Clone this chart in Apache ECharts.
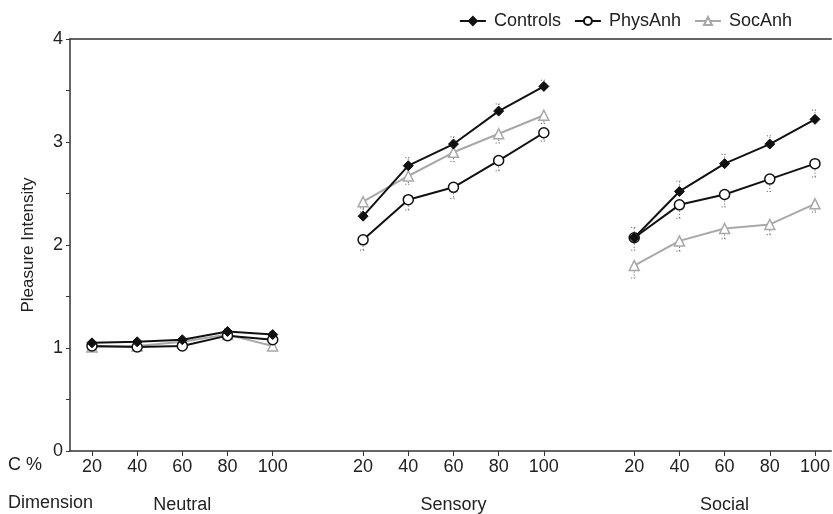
<!DOCTYPE html>
<html>
<head>
<meta charset="utf-8">
<script src="https://cdn.jsdelivr.net/npm/echarts@6/dist/echarts.min.js"></script>
<style>html,body{margin:0;padding:0;background:#fff;}#c{width:833px;height:514px;}</style>
</head>
<body>
<div id="c"></div>
<script>
// ---- data ----
var cPct = ['20', '40', '60', '80', '100'];
var dimensions = ['Neutral', 'Sensory', 'Social'];
var groupOffsets = [0, 6, 12];
var yTicks = [0, 1, 2, 3, 4];

var controls = [
  [1.05, 1.06, 1.08, 1.16, 1.13],
  [2.28, 2.77, 2.98, 3.30, 3.54],
  [2.07, 2.52, 2.79, 2.98, 3.22]
];
var physAnh = [
  [1.02, 1.01, 1.02, 1.12, 1.08],
  [2.05, 2.44, 2.56, 2.82, 3.09],
  [2.07, 2.39, 2.49, 2.64, 2.79]
];
var socAnh = [
  [1.01, 1.02, 1.06, 1.13, 1.02],
  [2.42, 2.67, 2.90, 3.08, 3.26],
  [1.80, 2.04, 2.16, 2.20, 2.40]
];
// standard errors (Controls drawn upward, the others downward)
var controlsErr = [
  [0.02, 0.02, 0.02, 0.03, 0.03],
  [0.08, 0.08, 0.07, 0.07, 0.06],
  [0.10, 0.10, 0.09, 0.08, 0.09]
];
var physAnhErr = [
  [0.02, 0.02, 0.02, 0.03, 0.03],
  [0.10, 0.10, 0.11, 0.10, 0.08],
  [0.12, 0.13, 0.12, 0.12, 0.13]
];
var socAnhErr = [
  [0.02, 0.02, 0.02, 0.03, 0.03],
  [0.10, 0.08, 0.09, 0.09, 0.08],
  [0.12, 0.10, 0.10, 0.10, 0.08]
];

// ---- build ----
function lineData(vals) {
  var out = [];
  vals.forEach(function (g, gi) {
    g.forEach(function (v, i) { out.push([groupOffsets[gi] + i, v]); });
    if (gi < vals.length - 1) out.push([groupOffsets[gi] + 5, '-']);
  });
  return out;
}
function errData(vals, errs, dir) {
  var out = [];
  vals.forEach(function (g, gi) {
    g.forEach(function (v, i) { out.push([groupOffsets[gi] + i, v, errs[gi][i], dir]); });
  });
  return out;
}
var tickPositions = [];
groupOffsets.forEach(function (o) { cPct.forEach(function (c, i) { tickPositions.push(o + i); }); });
var groupCenters = groupOffsets.map(function (o) { return o + 2; });

var FONT = 'Liberation Sans, Arial, Helvetica, sans-serif';
var FS = 18;

function errRender(params, api) {
  var x = api.value(0), y = api.value(1), e = api.value(2), d = api.value(3);
  var p0 = api.coord([x, y]);
  var p1 = api.coord([x, y + d * e]);
  var style = { stroke: '#555', lineWidth: 1, lineDash: [1, 2] };
  return {
    type: 'group',
    children: [
      { type: 'line', shape: { x1: p0[0], y1: p0[1], x2: p1[0], y2: p1[1] }, style: style },
      { type: 'line', shape: { x1: p1[0] - 3, y1: p1[1], x2: p1[0] + 3, y2: p1[1] }, style: style }
    ]
  };
}

var chart = echarts.init(document.getElementById('c'));
chart.setOption({
  animation: false,
  backgroundColor: '#fff',
  textStyle: { fontFamily: FONT },
  grid: { left: 70, right: 0, top: 39, bottom: 63 },
  legend: {
    data: ['Controls', 'PhysAnh', 'SocAnh'],
    top: 7, right: 36, itemWidth: 26, itemHeight: 10, itemGap: 13,
    textStyle: { fontFamily: FONT, fontSize: FS, color: '#222', padding: [0, 0, 0, 3] }
  },
  graphic: [
    { type: 'text', left: 8, top: 456, style: { text: 'C %', font: FS + 'px ' + FONT, fill: '#222' } },
    { type: 'text', left: 8, top: 494, style: { text: 'Dimension', font: FS + 'px ' + FONT, fill: '#222' } }
  ],
  xAxis: [
    {
      type: 'value', min: -0.486, max: 16.36, position: 'bottom',
      axisLine: { show: true, onZero: false, lineStyle: { color: '#333', width: 1.5 } },
      axisTick: { show: true, customValues: tickPositions, length: 5, lineStyle: { color: '#333' } },
      axisLabel: {
        show: true, customValues: tickPositions, margin: 7, fontSize: FS, color: '#222', fontFamily: FONT,
        formatter: function (v) { return cPct[Math.round(v) % 6]; }
      },
      splitLine: { show: false }
    },
    {
      type: 'value', min: -0.486, max: 16.36, position: 'bottom', offset: 38,
      axisLine: { show: false, onZero: false }, axisTick: { show: false },
      axisLabel: {
        show: true, customValues: groupCenters, margin: 7, fontSize: FS, color: '#222', fontFamily: FONT,
        formatter: function (v) { return dimensions[Math.round((v - 2) / 6)]; }
      },
      splitLine: { show: false }
    },
    {
      type: 'value', min: -0.486, max: 16.36, position: 'top',
      axisLine: { show: true, onZero: false, lineStyle: { color: '#333', width: 1.5 } },
      axisTick: { show: false }, axisLabel: { show: false }, splitLine: { show: false }
    }
  ],
  yAxis: {
    type: 'value', min: yTicks[0], max: yTicks[yTicks.length - 1], interval: 1,
    name: 'Pleasure Intensity', nameLocation: 'middle', nameGap: 33, nameRotate: 90,
    nameTextStyle: { fontSize: 17, color: '#222', fontFamily: FONT },
    axisLine: { show: true, onZero: false, lineStyle: { color: '#333', width: 1.5 } },
    axisTick: { show: true, length: 4, lineStyle: { color: '#333' } },
    minorTick: { show: true, splitNumber: 2, length: 4, lineStyle: { color: '#333' } },
    axisLabel: { fontSize: FS, color: '#222', margin: 7, fontFamily: FONT },
    splitLine: { show: false }
  },
  series: [
    { type: 'custom', xAxisIndex: 0, renderItem: errRender, data: errData(controls, controlsErr, 1), encode: { x: 0, y: 1 }, z: 1, silent: true },
    { type: 'custom', xAxisIndex: 0, renderItem: errRender, data: errData(physAnh, physAnhErr, -1), encode: { x: 0, y: 1 }, z: 1, silent: true },
    { type: 'custom', xAxisIndex: 0, renderItem: errRender, data: errData(socAnh, socAnhErr, -1), encode: { x: 0, y: 1 }, z: 1, silent: true },
    {
      name: 'SocAnh', type: 'line', xAxisIndex: 0, data: lineData(socAnh), connectNulls: false,
      symbol: 'triangle', symbolSize: 10, showAllSymbol: true,
      lineStyle: { color: '#a8a8a8', width: 2 },
      itemStyle: { color: '#fff', borderColor: '#a8a8a8', borderWidth: 1.5 }, z: 2
    },
    {
      name: 'PhysAnh', type: 'line', xAxisIndex: 0, data: lineData(physAnh), connectNulls: false,
      symbol: 'circle', symbolSize: 10, showAllSymbol: true,
      lineStyle: { color: '#111', width: 2 },
      itemStyle: { color: '#fff', borderColor: '#111', borderWidth: 1.5 }, z: 3
    },
    {
      name: 'Controls', type: 'line', xAxisIndex: 0, data: lineData(controls), connectNulls: false,
      symbol: 'diamond', symbolSize: 10, showAllSymbol: true,
      lineStyle: { color: '#111', width: 2 },
      itemStyle: { color: '#111', borderColor: '#111', borderWidth: 1 }, z: 4
    }
  ]
});
</script>
</body>
</html>
